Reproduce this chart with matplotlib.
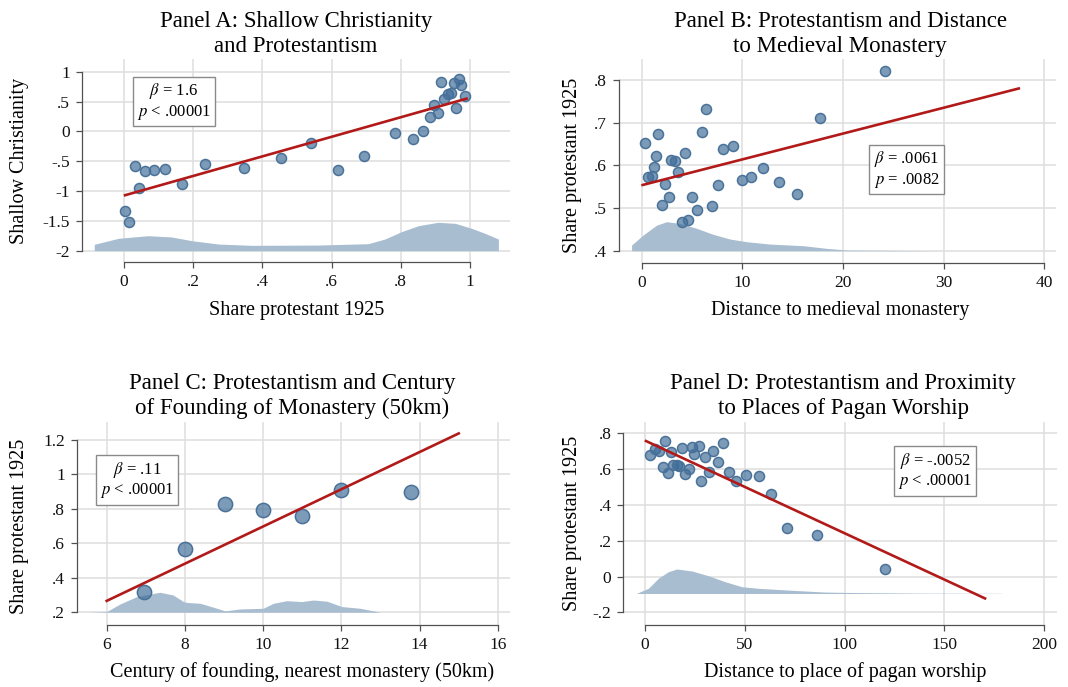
import numpy as np
import matplotlib
matplotlib.use("Agg")
import matplotlib.pyplot as plt
from matplotlib.colors import to_rgba

plt.rcParams['font.family'] = ['Liberation Serif', 'DejaVu Serif']
plt.rcParams['mathtext.fontset'] = 'stix'

W, H = 1068, 687

# ---- Panel A: shallow christianity vs share protestant
a_x = [0.003, 0.015, 0.032, 0.044, 0.062, 0.088, 0.119, 0.167, 0.233, 0.348,
       0.453, 0.541, 0.618, 0.693, 0.783, 0.834, 0.863, 0.883, 0.896, 0.908,
       0.916, 0.925, 0.935, 0.944, 0.953, 0.960, 0.967, 0.975, 0.985]
a_y = [-1.335, -1.52, -0.58, -0.955, -0.66, -0.64, -0.63, -0.88, -0.55, -0.62,
       -0.44, -0.19, -0.64, -0.42, -0.02, -0.12, 0.01, 0.235, 0.447, 0.30,
       0.83, 0.55, 0.62, 0.64, 0.816, 0.40, 0.87, 0.77, 0.59]
a_fit = (-1.075, 1.64, 0.003, 0.99)  # intercept, slope, x from, x to
a_dens_x = [-0.086, -0.086, -0.016, 0.070, 0.138, 0.196, 0.273, 0.369, 0.562,
            0.706, 0.754, 0.802, 0.851, 0.908, 0.957, 1.005, 1.043, 1.082, 1.082]
a_dens_y = [-2.0, -1.893, -1.792, -1.748, -1.77, -1.832, -1.888, -1.91, -1.905,
            -1.882, -1.804, -1.681, -1.58, -1.524, -1.541, -1.625, -1.708, -1.804, -2.0]
a_xticks = [0, 0.2, 0.4, 0.6, 0.8, 1]
a_xlabels = ['0', '.2', '.4', '.6', '.8', '1']
a_yticks = [-2, -1.5, -1, -0.5, 0, 0.5, 1]
a_ylabels = ['-2', '-1.5', '-1', '-.5', '0', '.5', '1']

# ---- Panel B: share protestant vs distance to monastery
b_x = [0.30, 0.66, 1.03, 1.19, 1.42, 1.62, 1.99, 2.32, 2.68, 2.91, 3.28, 3.64,
       3.97, 4.30, 4.64, 5.0, 5.5, 5.96, 6.39, 6.99, 7.55, 8.11, 9.04, 9.97,
       10.86, 12.05, 13.6, 15.4, 17.75, 24.14]
b_y = [0.652, 0.573, 0.574, 0.597, 0.622, 0.674, 0.506, 0.557, 0.525, 0.613,
       0.609, 0.584, 0.467, 0.630, 0.473, 0.526, 0.495, 0.679, 0.732, 0.505,
       0.553, 0.638, 0.645, 0.565, 0.573, 0.593, 0.562, 0.534, 0.710, 0.820]
b_fit = (0.5534, 0.00605, 0.1, 37.45)
b_dens_x = [-1.0, -1.0, 0.16, 1.49, 2.48, 3.8, 5.46, 7.1, 8.77, 10.43, 12.75,
            16.05, 18.4, 20.4, 29.6]
b_dens_y = [0.4, 0.4133, 0.437, 0.460, 0.468, 0.464, 0.4525, 0.4384, 0.4274,
            0.4211, 0.4156, 0.4118, 0.4055, 0.4016, 0.40]
b_xticks = [0, 10, 20, 30, 40]
b_xlabels = ['0', '10', '20', '30', '40']
b_yticks = [0.4, 0.5, 0.6, 0.7, 0.8]
b_ylabels = ['.4', '.5', '.6', '.7', '.8']

# ---- Panel C: share protestant vs century of founding
c_x = [6.955, 8.0, 9.02, 10.0, 11.0, 11.99, 13.77]
c_y = [0.318, 0.566, 0.827, 0.796, 0.759, 0.908, 0.896]
c_fit = (-0.382, 0.108, 6.0, 15.0)
c_dens_x = [5.53, 6.0, 6.34, 6.77, 7.36, 7.70, 7.96, 8.05, 8.39, 8.73, 9.03,
            9.41, 10.0, 10.26, 10.6, 10.99, 11.28, 11.63, 12.01, 12.48, 12.99]
c_dens_y = [0.2, 0.204, 0.248, 0.291, 0.316, 0.300, 0.262, 0.257, 0.252, 0.229,
            0.208, 0.219, 0.223, 0.252, 0.267, 0.262, 0.271, 0.264, 0.233, 0.223, 0.2]
c_xticks = [6, 8, 10, 12, 14, 16]
c_xlabels = ['6', '8', '10', '12', '14', '16']
c_yticks = [0.2, 0.4, 0.6, 0.8, 1.0, 1.2]
c_ylabels = ['.2', '.4', '.6', '.8', '1', '1.2']

# ---- Panel D: share protestant vs distance to pagan worship
d_x = [2.67, 5.0, 7.2, 8.85, 10.0, 11.5, 12.85, 14.2, 15.9, 17.2, 18.5, 20.0,
       22.2, 23.4, 24.7, 26.9, 28.2, 30.05, 32.2, 34.1, 36.4, 39.2, 42.2, 45.6,
       50.6, 57.1, 63.1, 71.0, 86.0, 120.2]
d_y = [0.677, 0.712, 0.699, 0.614, 0.755, 0.578, 0.696, 0.621, 0.621, 0.616,
       0.718, 0.573, 0.601, 0.726, 0.683, 0.729, 0.532, 0.670, 0.586, 0.703,
       0.638, 0.746, 0.582, 0.532, 0.565, 0.560, 0.463, 0.271, 0.230, 0.042]
d_fit = (0.7596, -0.00518, 0.5, 170.3)
d_dens_x = [-4.2, -4.2, 1.67, 6.7, 11.7, 15.9, 23.4, 31.7, 40.1, 48.4, 56.8,
            73.5, 90.2, 106.8, 140.2, 178.6]
d_dens_y = [-0.095, -0.094, -0.066, -0.010, 0.027, 0.042, 0.031, 0.0045, -0.029,
            -0.057, -0.066, -0.077, -0.087, -0.090, -0.093, -0.094]
d_xticks = [0, 50, 100, 150, 200]
d_xlabels = ['0', '50', '100', '150', '200']
d_yticks = [-0.2, 0, 0.2, 0.4, 0.6, 0.8]
d_ylabels = ['-.2', '0', '.2', '.4', '.6', '.8']

RED = '#b21a1a'
DOT = to_rgba('#3d6c99', 0.68)
DOT_EDGE = '#4a7299'
DENS = '#a8bdd0'
GRID = '#dedede'
SPINE = '#505050'
TITLE_FS = 16.5
LABEL_FS = 14.5


def fx(x):
    return x / W


def fy(y):
    return 1 - y / H


def make_panel(fig, rect_px, xlim, ylim, xticks, xlabels, yticks, ylabels):
    l, t, r, b = rect_px
    ax = fig.add_axes([fx(l), fy(b), (r - l) / W, (b - t) / H])
    ax.set_xlim(xlim)
    ax.set_ylim(ylim)
    ax.set_xticks(xticks)
    ax.set_xticklabels(xlabels)
    ax.set_yticks(yticks)
    ax.set_yticklabels(ylabels)
    for s in ['top', 'right']:
        ax.spines[s].set_visible(False)
    ax.spines['left'].set_bounds(yticks[0], yticks[-1])
    ax.spines['bottom'].set_bounds(xticks[0], xticks[-1])
    for s in ['left', 'bottom']:
        ax.spines[s].set_color(SPINE)
        ax.spines[s].set_linewidth(0.9)
    ax.tick_params(axis='both', direction='out', length=4.5, width=0.9,
                   color=SPINE, labelsize=12.5, labelcolor='#111111', pad=4)
    ax.grid(True, color=GRID, linewidth=1.1, zorder=0)
    ax.set_axisbelow(True)
    return ax


def draw(ax, x, y, fit, dens_x, dens_y, base, msize):
    ax.fill_between(dens_x, base, dens_y, color=DENS, linewidth=0, zorder=1)
    ax.scatter(x, y, s=msize, facecolor=DOT, edgecolor=DOT_EDGE,
               linewidth=1.1, zorder=3)
    xs = np.array([fit[2], fit[3]])
    ax.plot(xs, fit[0] + fit[1] * xs, color=RED, linewidth=1.9, zorder=4)


def note(fig, xc, yc, txt):
    fig.text(fx(xc), fy(yc), txt, ha='center', va='center', fontsize=12,
             linespacing=1.15,
             bbox=dict(boxstyle='square,pad=0.25', facecolor='white',
                       edgecolor='#8a8a8a', linewidth=1.0))


def title(fig, xc, yc, txt):
    fig.text(fx(xc), fy(yc), txt, ha='center', va='center', fontsize=TITLE_FS,
             linespacing=1.2)


fig = plt.figure(figsize=(W / 100, H / 100), dpi=100)

# Panel A
ax = make_panel(fig, (82, 59, 510, 261.7), (-0.1214, 1.1156), (-2.184, 1.213),
                a_xticks, a_xlabels, a_yticks, a_ylabels)
draw(ax, a_x, a_y, a_fit, a_dens_x, a_dens_y, -2.0, 52)
title(fig, 296, 34, 'Panel A: Shallow Christianity\nand Protestantism')
fig.text(fx(297), fy(311), 'Share protestant 1925', ha='center', va='center', fontsize=LABEL_FS)
fig.text(fx(20), fy(161), 'Shallow Christianity', ha='center', va='center',
         fontsize=LABEL_FS, rotation=90)
note(fig, 174, 101.5, '$\\beta$ = 1.6\n$p$ < .00001')

# Panel B
ax = make_panel(fig, (619, 59, 1056, 262.7), (-2.25, 41.15), (0.372, 0.849),
                b_xticks, b_xlabels, b_yticks, b_ylabels)
draw(ax, b_x, b_y, b_fit, b_dens_x, b_dens_y, 0.4, 52)
title(fig, 840, 34, 'Panel B: Protestantism and Distance\nto Medieval Monastery')
fig.text(fx(840), fy(311), 'Distance to medieval monastery', ha='center', va='center', fontsize=LABEL_FS)
fig.text(fx(573), fy(165), 'Share protestant 1925', ha='center', va='center',
         fontsize=LABEL_FS, rotation=90)
note(fig, 906.5, 169.5, '$\\beta$ = .0061\n$p$ = .0082')

# Panel C
ax = make_panel(fig, (76.7, 421.7, 510, 625), (5.233, 16.31), (0.126, 1.306),
                c_xticks, c_xlabels, c_yticks, c_ylabels)
draw(ax, c_x, c_y, c_fit, c_dens_x, c_dens_y, 0.2, 105)
title(fig, 292, 396, 'Panel C: Protestantism and Century\nof Founding of Monastery (50km)')
fig.text(fx(302), fy(672), 'Century of founding, nearest monastery (50km)',
         ha='center', va='center', fontsize=LABEL_FS)
fig.text(fx(20), fy(526), 'Share protestant 1925', ha='center', va='center',
         fontsize=LABEL_FS, rotation=90)
note(fig, 137, 480, '$\\beta$ = .11\n$p$ < .00001')

# Panel D
ax = make_panel(fig, (623.3, 421.7, 1056.7, 625), (-10.87, 206.2), (-0.271, 0.865),
                d_xticks, d_xlabels, d_yticks, d_ylabels)
draw(ax, d_x, d_y, d_fit, d_dens_x, d_dens_y, -0.095, 52)
title(fig, 843, 396, 'Panel D: Protestantism and Proximity\nto Places of Pagan Worship')
fig.text(fx(845), fy(672), 'Distance to place of pagan worship', ha='center', va='center', fontsize=LABEL_FS)
fig.text(fx(573), fy(523), 'Share protestant 1925', ha='center', va='center',
         fontsize=LABEL_FS, rotation=90)
note(fig, 935, 471, '$\\beta$ = -.0052\n$p$ < .00001')

fig.savefig('out.png', dpi=100)
